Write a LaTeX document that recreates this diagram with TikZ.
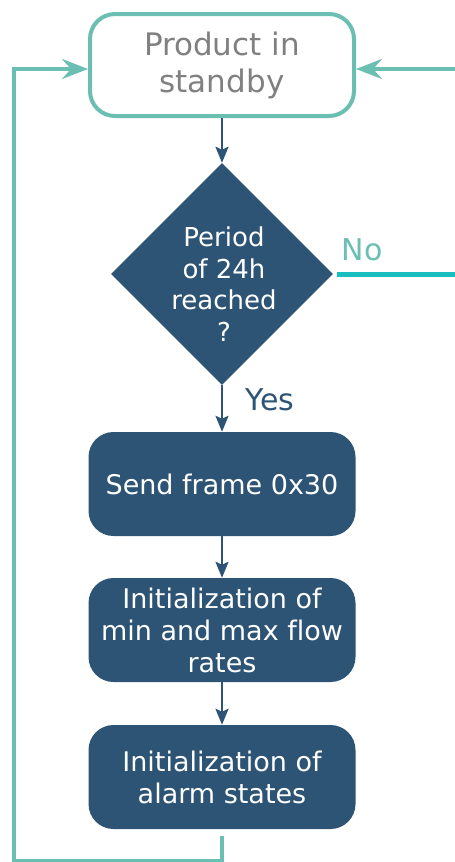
\documentclass[tikz,border=0pt]{standalone}
\usepackage{fontspec}
\setmainfont[Ligatures=NoCommon]{DejaVu Sans}
\usetikzlibrary{shapes.geometric,arrows.meta}
\definecolor{navy}{HTML}{2D5475}
\definecolor{teal2}{HTML}{6ABFB2}
\definecolor{cyanline}{HTML}{19BFC0}
\definecolor{txtgray}{HTML}{808080}

\begin{document}
\begin{tikzpicture}[x=1pt,y=-1pt]
\useasboundingbox (0,0) rectangle (455,862);
 \tikzstyle{blk}=[fill=navy, rounded corners=25pt, minimum width=267pt, minimum height=104pt, text=white, align=center, inner sep=0pt, font=\fontsize{27}{32}\selectfont]
 \tikzstyle{flow}=[navy, line width=2.5pt, -{Stealth[length=16pt,width=13pt,inset=3pt]}]
 \tikzstyle{loop}=[teal2, line width=4.5pt, -{Stealth[length=26pt,width=20pt,inset=9pt]}]
\node[draw=teal2, line width=4pt, rounded corners=25pt, minimum width=264pt, minimum height=102pt, text=txtgray, align=center, font=\fontsize{31}{37}\selectfont](start) at (222,65){Product in\\standby};
\node[diamond, fill=navy, minimum width=222pt, minimum height=222pt, inner sep=0pt](dec) at (222,274){};
\node[text=white, align=center, font=\fontsize{26}{31.5}\selectfont](dectxt) at (224,284){Period\\of 24h\\reached\\?};
\node[blk](send) at (222,484){Send frame 0x30};
\node[blk](initf) at (222,630){Initialization of\\min and max flow\\rates};
\node[blk](inita) at (222,777){Initialization of\\alarm states};
\node[text=navy, font=\fontsize{30}{36}\selectfont](yes) at (270,400){Yes};
\node[text=teal2, font=\fontsize{30}{36}\selectfont](no) at (362,250){No};
\coordinate (rin) at (455,69);
\coordinate (nout) at (455,274);
 \foreach \i/\j in {start/dec,dec/send,send/initf,initf/inita}{\draw[flow] (\i) -- (\j);}
\draw[loop] ([yshift=-7pt]inita.south) |- (14,861) |- (start.west |- rin);
\draw[loop] (rin) -- (rin -| start.east);
\draw[cyanline, line width=5pt] ([xshift=4pt]dec.east) -- (nout);
\end{tikzpicture}
\end{document}
